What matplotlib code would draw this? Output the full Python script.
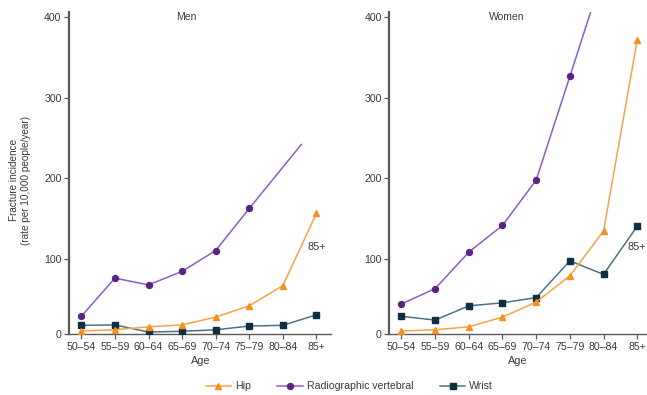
import numpy as np
import matplotlib
matplotlib.use("Agg")
import matplotlib.pyplot as plt
from matplotlib.transforms import blended_transform_factory

plt.rcParams['font.family'] = ['Liberation Sans', 'DejaVu Sans']

# Data
age_groups = ["50\u201354", "55\u201359", "60\u201364", "65\u201369", "70\u201374", "75\u201379", "80\u201384", "85+"]

hip_men = [4.5, 6, 10, 12.5, 23, 38, 65, 157]
vert_men = [24, 75, 66, 84, 111, 163]
vert_men_tail = (6.55, 242)  # line runs on past the last marker and stops here
wrist_men = [12, 12.5, 3, 4, 6, 11, 12, 26]

hip_women = [4.5, 6, 10, 23, 43, 78, 135, 371]
vert_women = [40.5, 61, 109, 142, 198, 326, 455, np.nan]
wrist_women = [24, 19, 38, 42, 49, 98, 80, 141]

label_85 = 115  # height of the "85+" annotation

# colours
hip_line, hip_mark = "#f9a248", "#f7901e"
vert_line, vert_mark = "#8d5cc4", "#5a2484"
wrist_line, wrist_mark = "#4d7284", "#0f2f40"
axis_col = "#5a5a5a"
text_col = "#3a3a3a"


# y axis in the original is slightly squashed below 100
def fwd(y):
    y = np.asarray(y, dtype=float)
    return np.where(y < 100, y * 0.925, y - 7.5)


def inv(v):
    v = np.asarray(v, dtype=float)
    return np.where(v < 92.5, v / 0.925, v + 7.5)


def draw_panel(ax, title, hip, vert, wrist, xmax, tail=None):
    x = np.arange(len(age_groups))
    ax.set_yscale('function', functions=(fwd, inv))

    vx = list(x[:len(vert)])
    vy = list(vert)
    ax.plot(vx, vy, color=vert_line, lw=1.1, zorder=2)
    if tail is not None:
        ax.plot([vx[-1], tail[0]], [vy[-1], tail[1]], color=vert_line, lw=1.1, zorder=2)
    ax.plot(vx, vy, ls='none', marker='o', ms=4.3, color=vert_mark, zorder=3)

    ax.plot(x, wrist, color=wrist_line, lw=1.1, zorder=2)
    ax.plot(x, wrist, ls='none', marker='s', ms=4.1, color=wrist_mark, zorder=3)

    ax.plot(x, hip, color=hip_line, lw=1.1, zorder=4)
    ax.plot(x, hip, ls='none', marker='^', ms=4.3, color=hip_mark, zorder=4)

    ax.set_xlim(-0.36, xmax)
    ax.set_ylim(0, 406)
    ax.set_yticks([0, 100, 200, 300, 400])
    ax.set_xticks(x)
    ax.set_xticklabels(age_groups)

    for s in ['top', 'right']:
        ax.spines[s].set_visible(False)
    ax.spines['left'].set_color(axis_col)
    ax.spines['left'].set_linewidth(1.6)
    ax.spines['bottom'].set_color(axis_col)
    ax.spines['bottom'].set_linewidth(1.0)
    ax.tick_params(axis='both', colors=axis_col, labelcolor=text_col,
                   labelsize=7.6, length=3.5, width=0.9, pad=2)
    ax.set_xlabel("Age", fontsize=7.8, color=text_col, labelpad=3)

    trans = blended_transform_factory(ax.transData, ax.transAxes)
    ax.text(3.13, 0.985, title, transform=trans, ha='center', va='center',
            fontsize=7.5, color=text_col)
    ax.text(7, label_85, "85+", ha='center', va='center', fontsize=7.8, color=text_col)


fig = plt.figure(figsize=(6.47, 3.95), dpi=100)
ax_men = fig.add_axes([0.1070, 0.1537, 0.4050, 0.8167])
ax_women = fig.add_axes([0.6017, 0.1537, 0.3983, 0.8167])

draw_panel(ax_men, "Men", hip_men, vert_men, wrist_men, 7.44, tail=vert_men_tail)
draw_panel(ax_women, "Women", hip_women, vert_women, wrist_women, 7.29)

fig.text(0.031, 0.544, "Fracture incidence\n(rate per 10,000 people/year)", rotation=90,
         ha='center', va='center', fontsize=7.2, color=text_col, linespacing=1.2)

handles = [
    plt.Line2D([], [], color=hip_line, lw=1.1, marker='^', ms=4.3, mfc=hip_mark, mec=hip_mark),
    plt.Line2D([], [], color=vert_line, lw=1.1, marker='o', ms=4.3, mfc=vert_mark, mec=vert_mark),
    plt.Line2D([], [], color=wrist_line, lw=1.1, marker='s', ms=4.1, mfc=wrist_mark, mec=wrist_mark),
]
fig.legend(handles, ["Hip", "Radiographic vertebral", "Wrist"], loc='center',
           bbox_to_anchor=(0.54, 0.022), ncol=3, frameon=False, fontsize=7.6,
           handlelength=2.4, handletextpad=0.4, columnspacing=2.5, labelcolor=text_col)

fig.savefig("out.png", dpi=100)
